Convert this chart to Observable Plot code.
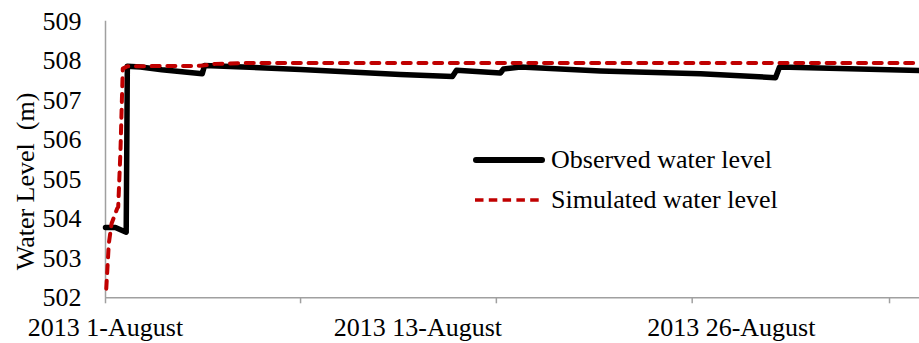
<!DOCTYPE html>
<html>
<head>
<meta charset="utf-8">
<script src="https://cdn.jsdelivr.net/npm/d3@7"></script>
<script src="https://cdn.jsdelivr.net/npm/@observablehq/plot@0.6"></script>
<style>
  html, body { margin: 0; padding: 0; background: #fff; }
  #wrap { position: relative; width: 919px; height: 343px; overflow: hidden; font-family: "Liberation Serif", "Times New Roman", serif; }
  #legend { position: absolute; left: 473px; top: 140px; font-size: 26px; color: #000; }
  .row { display: flex; align-items: center; height: 40px; }
  .row svg { margin-right: 6px; }
</style>
</head>
<body>
<div id="wrap"><div id="chart"></div>
<div id="legend">
  <div class="row"><svg width="72" height="10"><line x1="3" y1="5" x2="69" y2="5" stroke="#000" stroke-width="6" stroke-linecap="round"/></svg><span>Observed water level</span></div>
  <div class="row"><svg width="72" height="10"><line x1="2" y1="5" x2="70" y2="5" stroke="#c00000" stroke-width="3.5" stroke-dasharray="8.5,5.3" stroke-linecap="butt"/></svg><span>Simulated water level</span></div>
</div>
</div>
<script>
// days since 2013-08-01 (position along the chart's category axis) and water levels (m)
const obsDay   = [0, 0.39, 0.815, 0.86, 1.38, 2.22, 3.81, 3.9, 7.68, 11.61, 13.66, 13.82, 15.55, 15.67, 16.34, 19.49, 23.43, 26.38, 26.54, 32.05];
const obsLevel = [503.78, 503.78, 503.66, 507.86, 507.84, 507.77, 507.67, 507.88, 507.78, 507.65, 507.60, 507.76, 507.69, 507.79, 507.84, 507.74, 507.67, 507.57, 507.84, 507.75];

const simDay   = [0.03, 0.13, 0.24, 0.46, 0.50, 0.59, 0.68, 0.87, 3.74, 4.33, 5.31, 32.05];
const simLevel = [502.23, 503.37, 503.88, 504.26, 504.3, 505.73, 507.8, 507.86, 507.87, 507.92, 507.94, 507.94];

const yTicks = [502, 503, 504, 505, 506, 507, 508, 509];
const xTickDays = [0, 7.68, 15.39, 23.1, 30.87];
const xLabelDays = [0, 12.3, 24.64];
const xLabels = ["2013 1-August", "2013 13-August", "2013 26-August"];
const yTitle = "Water Level\u00a0 (m)";

const observed = obsDay.map((d, i) => ({day: d, level: obsLevel[i]}));
const simulated = simDay.map((d, i) => ({day: d, level: simLevel[i]}));
const labelMap = new Map(xLabelDays.map((d, i) => [d, xLabels[i]]));
const gray = "#a0a0a0";

const chart = Plot.plot({
  width: 919,
  height: 343,
  marginLeft: 105,
  marginRight: 0,
  marginTop: 20.7,
  marginBottom: 45.7,
  style: {fontFamily: "'Liberation Serif', 'Times New Roman', serif", fontSize: "26px", background: "#fff", color: "#000"},
  x: {domain: [0, 32.05]},
  y: {domain: [502, 509]},
  marks: [
    Plot.axisY({ticks: yTicks, tickSize: 0, tickPadding: 24, label: null, tickFormat: d => String(d)}),
    Plot.axisX({ticks: xTickDays, tickSize: 6, tickFormat: () => "", label: null, stroke: gray, strokeWidth: 1.5}),
    Plot.axisX({ticks: xLabelDays, tickSize: 0, tickPadding: 20, label: null, tickFormat: d => labelMap.get(d)}),
    Plot.ruleY([502], {stroke: gray, strokeWidth: 1.5}),
    Plot.ruleX([0], {stroke: gray, strokeWidth: 1.5}),
    Plot.text([yTitle], {frameAnchor: "left", text: d => d, rotate: -90, textAnchor: "middle", lineAnchor: "middle", dx: -80, dy: 22, fontSize: 26}),
    Plot.line(observed, {x: "day", y: "level", stroke: "#000", strokeWidth: 5.5, strokeLinejoin: "round", strokeLinecap: "round"}),
    Plot.line(simulated, {x: "day", y: "level", stroke: "#c00000", strokeWidth: 4, strokeDasharray: "8,7.7", strokeLinecap: "round", strokeLinejoin: "round"})
  ]
});
document.getElementById("chart").appendChild(chart);
</script>
</body>
</html>
